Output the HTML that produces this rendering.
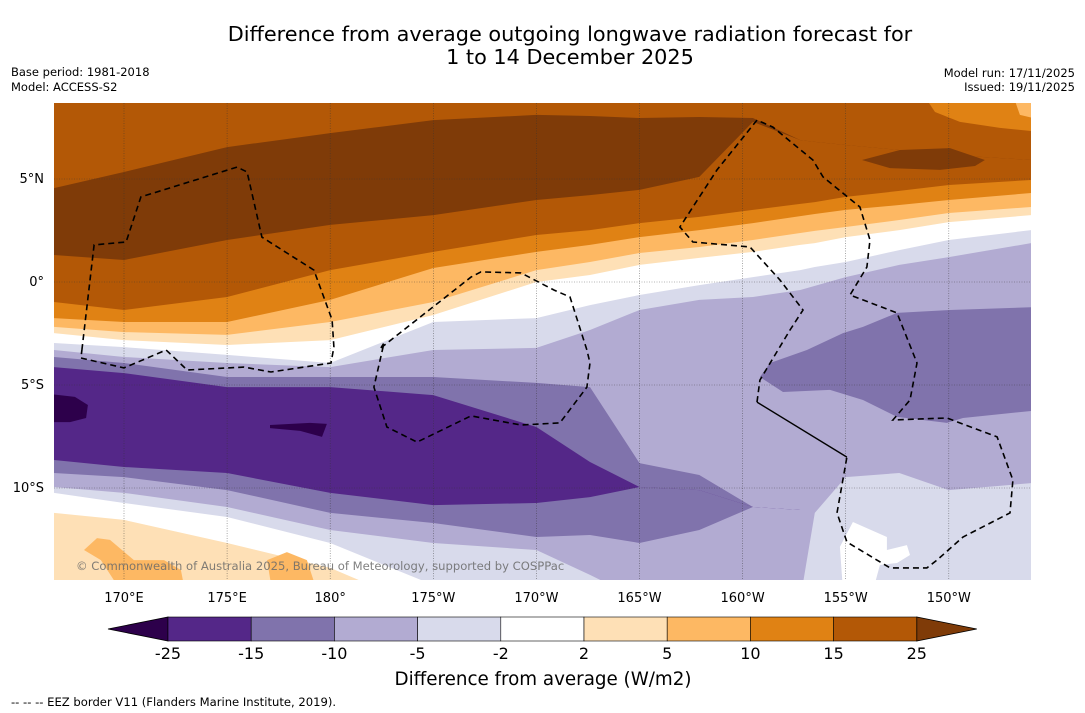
<!DOCTYPE html>
<html><head><meta charset="utf-8">
<style>
html,body{margin:0;padding:0;background:#fff;}
svg{display:block;font-family:"DejaVu Sans","Liberation Sans",sans-serif;}
</style></head>
<body>
<svg id="chart" width="1085" height="713" viewBox="0 0 1085 713" xmlns="http://www.w3.org/2000/svg">
<rect x="0" y="0" width="1085" height="713" fill="#fff"/>
<text x="570" y="41" text-anchor="middle" font-size="20.8" fill="#000">Difference from average outgoing longwave radiation forecast for</text>
<text x="570" y="64" text-anchor="middle" font-size="20.8" fill="#000">1 to 14 December 2025</text>
<text x="11" y="76" font-size="11.5" fill="#000">Base period: 1981-2018</text>
<text x="11" y="91" font-size="11.5" fill="#000">Model: ACCESS-S2</text>
<text x="1075" y="77" text-anchor="end" font-size="11.5" fill="#000">Model run: 17/11/2025</text>
<text x="1075" y="91" text-anchor="end" font-size="11.5" fill="#000">Issued: 19/11/2025</text>
<defs><clipPath id="mapclip"><rect x="54" y="103" width="977" height="477"/></clipPath></defs>
<g id="map" clip-path="url(#mapclip)"></g>
<g id="grid"></g>
<g id="eez"></g>
<text x="76" y="570" font-size="11.6" fill="#6a6a6a" fill-opacity="0.85">© Commonwealth of Australia 2025, Bureau of Meteorology, supported by COSPPac</text>
<g id="axes"></g>
<g id="cbar"></g>
<text x="543" y="685" text-anchor="middle" font-size="18.3" fill="#000">Difference from average (W/m2)</text>
<text x="11" y="706" font-size="11.6" fill="#000">--  --  -- EEZ border V11 (Flanders Marine Institute, 2019).</text>
</svg>
<script>
// ---- data ----
const lonSamples = [166.6,170,175,180,185,190,192.6,195,197.9,200.5,202.8,203.5,205,207.6,210,214];
const lineA = [4.56,5.34,6.55,7.23,7.86,8.11,8.06,7.96,8.01,7.96,6.89,6.80,6.65,6.41,6.17,5.92];
const lineB = [1.31,1.07,2.04,2.77,3.25,3.98,4.22,4.47,5.10,7.77,6.89,6.80,6.65,6.41,6.17,5.92];
const lineC = [-0.97,-1.36,-0.73,0.58,1.46,2.28,2.52,2.86,3.16,3.50,3.79,3.88,4.13,4.42,4.71,4.95];
const lineD = [-1.75,-1.94,-1.94,-0.87,0.68,1.46,1.80,2.18,2.52,2.86,3.20,3.30,3.50,3.74,3.98,4.32];
const lineE = [-2.18,-2.43,-2.57,-1.94,-0.97,0.58,0.97,1.41,1.70,2.04,2.38,2.48,2.67,3.01,3.35,3.64];
const lineF = [-2.48,-2.82,-3.06,-2.82,-1.60,0,0.34,0.83,1.17,1.46,1.80,1.89,2.18,2.52,2.91,3.25];
const lineG = [-2.96,-3.16,-3.54,-3.93,-1.94,-1.75,-1.12,-0.63,-0.15,0.24,0.58,0.73,0.97,1.55,2.04,2.52];
const lineH = [-3.30,-3.64,-3.93,-4.13,-3.30,-3.20,-2.33,-1.36,-0.87,-0.73,-0.39,-0.19,0.24,0.83,1.21,1.89];
const lineI = [-3.64,-3.93,-4.61,-4.61,-4.61,-4.90,-5.10,-8.79,-9.37,-10.92,-11.07,-11.07,-11.07,-11.07,-11.07,-11.07];
const lineJ = [-4.13,-4.42,-5.10,-5.10,-5.49,-7.04,-8.74,-9.95,-10.10,-10.92,-11.07,-11.07,-11.07,-11.07,-11.07,-11.07];
const lineK = [-8.64,-8.98,-9.27,-10.24,-10.83,-10.73,-10.44,-9.95,-10.10,-10.92,-11.07,-11.07,-11.07,-11.07,-11.07,-11.07];
const lineM = [-9.27,-9.47,-10.10,-11.21,-11.70,-12.38,-12.28,-12.67,-12.04,-10.92,-11.07,-11.07,-11.07,-11.07,-11.07,-11.07];
const lineL = [-9.95,-10.24,-10.92,-12.04,-12.67,-13.01,-14.22,-15.4,-15.4,-15.4,-15.4,-11.21,-9.47,-9.27,-10.10,-9.76];
const lineN = [-10.24,-10.73,-11.41,-12.67,-14.71,-15.4,-15.4,-15.4,-15.4,-15.4,-15.4,-15.4,-15.4,-15.4,-15.4,-15.4];
const lineO = [-11.21,-11.55,-12.67,-13.88,-16,-16,-16,-16,-16,-16,-16,-16,-16,-16,-16,-16];

const blobDarkRightLon = [205.79,207.63,210.06,211.75,211.27,209.57,207.15];
const blobDarkRightLat = [5.92,6.41,6.50,5.92,5.63,5.44,5.53];
const blobOrangeTRLon = [208.70,209.33,210.54,212.48,214.5,214.5];
const blobOrangeTRLat = [9.2,8.25,7.77,7.48,7.28,9.2];
const blobLightOrangeTRLon = [213.07,213.45,214.5,214.5];
const blobLightOrangeTRLat = [9.2,8.11,7.86,9.2];
const blobPurpleRightLon = [200.84,201.33,203.12,204.87,205.84,207.49,210.06,214.5,214.5,210.69,209.91,207.49,205.84,204.24,201.96];
const blobPurpleRightLat = [-4.61,-3.93,-3.30,-2.48,-2.18,-1.50,-1.36,-1.21,-6.21,-6.60,-6.84,-6.55,-5.73,-5.24,-5.34];
const blobDeepLeftLon = [166.0,167.62,168.25,168.16,167.38,166.0];
const blobDeepLeftLat = [-5.39,-5.58,-5.97,-6.60,-6.80,-6.80];
const blobDeepSmallLon = [177.08,179.02,179.84,179.60,178.54,177.08];
const blobDeepSmallLat = [-6.94,-6.84,-6.89,-7.52,-7.23,-7.09];
const blobWhiteBRLon = [204.72,205.35,207.0,207.0,207.97,208.12,207.49,206.66,206.32,204.87];
const blobWhiteBRLat = [-12.86,-11.65,-12.38,-13.01,-12.77,-13.25,-13.64,-13.74,-15,-15];
const blobPeach1Lon = [168.06,168.69,169.32,170.48,171.94,172.76,172.96,169.85,168.88];
const blobPeach1Lat = [-13.01,-12.43,-12.52,-13.50,-13.50,-13.98,-15,-15,-13.50];
const blobPeach2Lon = [176.94,177.90,178.87,179.36,177.18];
const blobPeach2Lat = [-13.50,-13.11,-13.50,-15,-15];

const eez1Lon = [167.96,168.55,170.10,170.82,175.48,175.97,176.69,179.21,180.09,180.18,180.04,177.13,175.82,173.06,172.04,170.0,167.91,167.96];
const eez1Lat = [-3.30,1.80,1.94,4.13,5.58,5.34,2.18,0.58,-1.84,-3.16,-3.93,-4.37,-4.13,-4.27,-3.30,-4.17,-3.69,-3.30];
const eez2Lon = [182.46,186.83,187.31,189.25,190.85,191.63,192.45,192.60,192.45,191.14,189.25,186.83,184.21,182.75,182.12,182.61,182.46];
const eez2Lat = [-3.20,0.24,0.49,0.44,-0.39,-0.73,-3.30,-3.93,-5.10,-6.84,-6.94,-6.50,-7.77,-7.04,-5.10,-2.96,-3.20];
const eez3Lon = [200.70,200.84,202.30,202.93,201.81,200.36,197.59,196.96,198.76,200.70,201.47,203.41,203.90,205.69,206.18,206.03,205.21,207.49,208.46,208.12,207.29,209.91,212.34,213.11,212.97,210.69,209.43,208.94,207.15,205.06,204.58,205.06];
const eez3Lat = [-5.83,-4.76,-2.33,-1.36,0.10,1.70,1.94,2.67,5.44,7.86,7.52,5.92,5.10,3.64,2.04,0.73,-0.63,-1.50,-3.93,-5.73,-6.70,-6.60,-7.52,-9.61,-11.21,-12.38,-13.50,-13.88,-13.88,-12.62,-11.21,-8.50];
const eezSolidLon = [200.70,205.06];
const eezSolidLat = [-5.83,-8.50];

const lonTicks = [170,175,180,185,190,195,200,205,210];
const lonTickLabels = ["170°E","175°E","180°","175°W","170°W","165°W","160°W","155°W","150°W"];
const latTicks = [5,0,-5,-10];
const latTickLabels = ["5°N","0°","5°S","10°S"];

const cbarLevels = [-25,-15,-10,-5,-2,2,5,10,15,25];
const cbarColors = ["#542788","#8073ac","#b2abd2","#d8daeb","#ffffff","#fee0b6","#fdb863","#e08214","#b35806"];
const cbarUnder = "#2d004b";
const cbarOver = "#7f3b08";

// ---- axes ----
const xOf = lon => 124 + (lon - 170) * 20.62;
const yOf = lat => 282 - lat * 20.6;
const NS = "http://www.w3.org/2000/svg";
function mk(tag, parent){ const e = document.createElementNS(NS, tag); parent.appendChild(e); return e; }

const map = document.getElementById('map');
const base = mk('rect', map);
base.setAttribute('x', 50); base.setAttribute('y', 100); base.setAttribute('width', 990); base.setAttribute('height', 490);
base.setAttribute('fill', '#b35806');



const bands = [
 [lineA,'#7f3b08','band-above-25-north'],
 [lineB,'#b35806','band-15-25'],
 [lineC,'#e08214','band-10-15'],
 [lineD,'#fdb863','band-5-10'],
 [lineE,'#fee0b6','band-2-5'],
 [lineF,'#ffffff','band-neutral'],
 [lineG,'#d8daeb','band-minus5-minus2'],
 [lineH,'#b2abd2','band-minus10-minus5'],
 [lineI,'#8073ac','band-minus15-minus10'],
 [lineJ,'#542788','band-minus25-minus15'],
 [lineK,'#8073ac','band-minus15-minus10-south'],
 [lineM,'#b2abd2','band-minus10-minus5-south'],
 [lineL,'#d8daeb','band-minus5-minus2-south'],
 [lineN,'#ffffff','band-neutral-south'],
 [lineO,'#fee0b6','band-2-5-south']
];
bands.forEach(b => {
  const line = b[0];
  const pts = [45+','+yOf(line[0]).toFixed(1)]
    .concat(lonSamples.map((lon,i)=>xOf(lon).toFixed(1)+','+yOf(line[i]).toFixed(1)))
    .concat(['1040,'+yOf(line[line.length-1]).toFixed(1),'1040,700','45,700']);
  const p = mk('polygon', map);
  p.setAttribute('points', pts.join(' '));
  p.setAttribute('fill', b[1]);
  
  
});

const blobs = [
 [blobDarkRightLon, blobDarkRightLat, '#7f3b08', 'blob-above-25-east'],
 [blobOrangeTRLon, blobOrangeTRLat, '#e08214', 'blob-10-15-northeast'],
 [blobLightOrangeTRLon, blobLightOrangeTRLat, '#fdb863', 'blob-5-10-northeast'],
 [blobPurpleRightLon, blobPurpleRightLat, '#8073ac', 'blob-minus15-minus10-east'],
 [blobDeepLeftLon, blobDeepLeftLat, '#2d004b', 'blob-below-minus25-west'],
 [blobDeepSmallLon, blobDeepSmallLat, '#2d004b', 'blob-below-minus25-small'],
 [blobWhiteBRLon, blobWhiteBRLat, '#ffffff', 'blob-neutral-southeast'],
 [blobPeach1Lon, blobPeach1Lat, '#fdb863', 'blob-5-10-southwest'],
 [blobPeach2Lon, blobPeach2Lat, '#fdb863', 'blob-5-10-south']
];
blobs.forEach(b => {
  const p = mk('polygon', map);
  p.setAttribute('points', b[0].map((lon,i)=>xOf(lon).toFixed(1)+','+yOf(b[1][i]).toFixed(1)).join(' '));
  p.setAttribute('fill', b[2]);
  
  
});

// graticule
const grid = document.getElementById('grid');
lonTicks.forEach(lon => {
  const l = mk('line', grid);
  l.setAttribute('x1', xOf(lon)); l.setAttribute('x2', xOf(lon)); l.setAttribute('y1', 103); l.setAttribute('y2', 580);
  l.setAttribute('stroke', '#333'); l.setAttribute('stroke-width', '0.6'); l.setAttribute('stroke-dasharray', '1,1.5'); l.setAttribute('stroke-opacity','0.7');
  
  
});
latTicks.forEach(lat => {
  const l = mk('line', grid);
  l.setAttribute('x1', 54); l.setAttribute('x2', 1031); l.setAttribute('y1', yOf(lat)); l.setAttribute('y2', yOf(lat));
  l.setAttribute('stroke', '#333'); l.setAttribute('stroke-width', '0.6'); l.setAttribute('stroke-dasharray', '1,1.5'); l.setAttribute('stroke-opacity','0.7');
  
  
});

// EEZ
const eez = document.getElementById('eez');
[[eez1Lon,eez1Lat,'eez-border-west'],[eez2Lon,eez2Lat,'eez-border-central'],[eez3Lon,eez3Lat,'eez-border-east']].forEach(e => {
  const p = mk('polyline', eez);
  p.setAttribute('points', e[0].map((lon,i)=>xOf(lon).toFixed(1)+','+yOf(e[1][i]).toFixed(1)).join(' '));
  p.setAttribute('fill', 'none'); p.setAttribute('stroke', '#000'); p.setAttribute('stroke-width', '1.6'); p.setAttribute('stroke-dasharray', '6,4');
  
  
});
const sol = mk('polyline', eez);
sol.setAttribute('points', eezSolidLon.map((lon,i)=>xOf(lon).toFixed(1)+','+yOf(eezSolidLat[i]).toFixed(1)).join(' '));
sol.setAttribute('fill', 'none'); sol.setAttribute('stroke', '#000'); sol.setAttribute('stroke-width', '1.4');



// axis labels
const axes = document.getElementById('axes');
lonTicks.forEach((lon,i) => {
  const t = mk('text', axes);
  t.setAttribute('x', xOf(lon)); t.setAttribute('y', 602); t.setAttribute('text-anchor', 'middle'); t.setAttribute('font-size', '13');
  t.textContent = lonTickLabels[i];
  
  
});
latTicks.forEach((lat,i) => {
  const t = mk('text', axes);
  t.setAttribute('x', 44); t.setAttribute('y', yOf(lat)+4); t.setAttribute('text-anchor', 'end'); t.setAttribute('font-size', '13');
  t.textContent = latTickLabels[i];
  
  
});

// colorbar
const cb = document.getElementById('cbar');
const cbX0 = 168, cbW = 83.2, cbY = 617, cbH = 24;
const under = mk('polygon', cb);
under.setAttribute('points', `${cbX0},${cbY} ${cbX0},${cbY+cbH} 108,${cbY+cbH/2}`);
under.setAttribute('fill', cbarUnder); under.setAttribute('stroke', '#000'); under.setAttribute('stroke-width', '0.8');


cbarColors.forEach((c,i) => {
  const r = mk('rect', cb);
  r.setAttribute('x', cbX0 + i*cbW); r.setAttribute('y', cbY); r.setAttribute('width', cbW); r.setAttribute('height', cbH);
  r.setAttribute('fill', c); r.setAttribute('stroke', '#000'); r.setAttribute('stroke-width', '0.6');
  
  
});
const xEnd = cbX0 + cbarColors.length*cbW;
const over = mk('polygon', cb);
over.setAttribute('points', `${xEnd},${cbY} ${xEnd},${cbY+cbH} ${xEnd+60},${cbY+cbH/2}`);
over.setAttribute('fill', cbarOver); over.setAttribute('stroke', '#000'); over.setAttribute('stroke-width', '0.8');


cbarLevels.forEach((v,i) => {
  const t = mk('text', cb);
  t.setAttribute('x', cbX0 + i*cbW); t.setAttribute('y', 659); t.setAttribute('text-anchor', 'middle'); t.setAttribute('font-size', '16');
  t.textContent = v;
  
  
});
</script>
</body></html>
